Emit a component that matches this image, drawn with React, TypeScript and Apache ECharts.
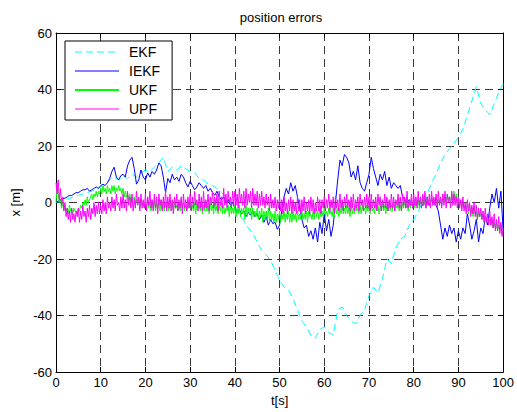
import React, { useEffect, useRef } from "react";
import * as echarts from "echarts";

// Filter names, in drawing order (later ones are drawn on top)
const FILTERS = ["EKF", "IEKF", "UKF", "UPF"];
const COLORS = ["#00ffff", "#0000ff", "#00ff00", "#ff00ff"];
// Line width of each filter's sample in the legend
const LEGEND_WIDTHS = [1, 1, 2, 1];

// Axis ranges and tick spacing
const T_MIN = 0;
const T_MAX = 100;
const T_STEP = 10;
const X_MIN = -60;
const X_MAX = 60;
const X_STEP = 20;

// EKF position error [m], one sample per second (t = 0..100 s)
const ekf = [
  0, 0.5, 1, 1.5, 2, 2.5, 3, 3.5, 4, 4.5,
  5.5, 6, 8, 9, 8, 9.5, 8.5, 10, 9, 10.5,
  11.5, 11, 12.5, 14, 16, 11, 12.5, 11.5, 13, 12,
  11, 10.5, 8.5, 8, 6.5, 6, 5, 3.5, 2, 0,
  -2, -4, -6.5, -9, -11, -14, -17, -18.5, -20.5, -24,
  -27.5, -30, -31, -34, -38, -42, -44, -47, -48, -45,
  -44, -46, -47, -38, -37, -40, -42, -43, -40, -38,
  -33, -30, -32, -27, -20, -21.5, -16, -13, -12, -8,
  -6, -3, 0, 3, 7, 10, 14, 17, 19, 21,
  23, 26, 31, 36, 41, 35, 33, 31, 35, 39,
  42,
];

// IEKF position error [m], two samples per second
const iekf = [
  0, 0.5, 1, 1.5, 1.5, 2, 2.5, 2.5, 3, 3.5,
  3.5, 4, 4.5, 4.5, 5, 4, 4.5, 5, 5.5, 5,
  6, 6.5, 6, 7, 8.5, 11, 12.5, 9, 8, 9.5,
  10, 9, 13, 15, 16, 12, 6.5, 8, 11.5, 9,
  8, 10.5, 9, 11, 10, 11.5, 14, 13, 9, 3.5,
  8.5, 7, 10, 8, 9, 7.5, 10, 9, 7, 5.5,
  7.5, 6, 4.5, 5.5, 7, 6, 5, 6, 4, 5,
  3.5, 2.5, 4, 2, 1, 2, 0, 1, -1, 0,
  -2, -3.5, -2.5, -4, -3, -5, -3.5, -4.5, -3, -5,
  -4, -6, -4.5, -7, -5, -8, -6, -7.5, -7, -9.5,
  -8, -3, 2, 5, 3, 7, 4, 6, 2, -2,
  -6, -9, -8, -12, -10, -13, -9, -14, -7, -11,
  -4, -10, -6, -12, -8, 0, 8, 15, 13, 17,
  16, 14, 9, 11, 8, 13, 7, 5, 4, 7,
  10, 16, 12, 9, 6, 10, 8, 11, 6, 9,
  5, 7, 6, 5, 6, 2, 1, 0, 1, -1,
  0, -1, 1, 0, -1, 1, 0, -1, 1, 0,
  -1, -3, -8, -13, -9, -12, -8, -11, -9, -14,
  -10, -13, -9, -11, -4, -8, -13, -10, -6, -14,
  -9, -11, -5, -8, -2, 3, 0, 5, -2, 4,
  -10,
];

// UKF position error [m], four samples per second
const ukf = [
  0, 7, 3, 0, 1, -2, 0, -3, -1, -3, -2, -4, -1, -3, -2, -4, -2, -3, -3, -4,
  -2, -3, -1, -2, 0, -1, 1, -1, 2, 0, 1, 2, 3, 1, 3, 2, 4, 2, 4, 3,
  5, 3, 6, 4, 5, 3, 6, 4, 5, 3, 6, 4, 6, 3, 5, 4, 6, 4, 5, 3,
  5, 2, 4, 2, 3, 1, 3, 0, 2, 1, 2, -1, 1, 0, 1, -2, 1, -1, 0, -2,
  0, -2, 1, -2, 0, -3, 0, -2, 1, -3, 0, -2, 0, -3, 1, -2, 0, -3, 0, -2,
  0, -3, 1, -2, 0, -3, 0, -2, -1, -3, 0, -3, 1, -2, 0, -3, -1, -3, 0, -2,
  0, -3, -1, -3, 0, -4, 0, -2, -1, -3, 0, -4, -1, -3, 0, -3, -1, -4, 0, -3,
  -1, -4, 0, -3, -1, -4, -1, -3, 0, -4, -1, -4, -2, -3, -1, -5, -1, -4, -2, -4,
  -1, -5, -2, -4, -1, -5, -2, -4, -2, -6, -1, -5, -2, -4, -2, -6, -2, -5, -3, -5,
  -2, -6, -3, -5, -2, -7, -3, -6, -3, -6, -2, -7, -3, -6, -4, -7, -3, -7, -4, -6,
  -3, -7, -4, -6, -3, -7, -4, -6, -3, -7, -4, -7, -3, -6, -4, -7, -3, -6, -4, -6,
  -3, -6, -4, -6, -3, -7, -3, -5, -4, -6, -3, -6, -2, -5, -3, -6, -2, -5, -3, -5,
  -2, -5, -3, -5, -2, -4, -3, -5, -2, -5, -1, -4, -2, -5, -2, -4, -1, -4, -2, -4,
  -1, -4, -2, -5, -1, -4, -2, -4, -1, -3, -2, -4, -1, -4, -1, -3, -2, -4, -1, -3,
  -1, -4, -1, -3, -2, -4, 0, -3, -1, -4, -1, -3, 0, -3, -1, -4, -1, -3, 0, -3,
  -1, -3, 0, -3, -1, -2, 0, -3, -1, -3, 0, -2, 1, -2, 0, -3, 0, -2, 1, -2,
  1, -2, 0, -1, 1, -2, 1, -1, 2, -1, 1, -2, 2, -1, 1, 0, 2, -1, 1, -1,
  2, -1, 1, 0, 2, -1, 3, 0, 2, 0, 3, 1, 2, 0, 3, 1, 4, 1, 3, 0,
  2, -1, 1, -2, 0, -2, -1, -3, 0, -4, -1, -4, -2, -5, -2, -4, -3, -6, -3, -5,
  -4, -6, -4, -7, -5, -7, -5, -8, -6, -8, -6, -9, -7, -9, -7, -10, -8, -10, -8, -11,
  -10,
];

// UPF position error [m], four samples per second
const upf = [
  7, 3, 8, 1, 5, -1, 2, -3, 0, -5, -2, -6, -3, -7, -2, -6, -4, -7, -3, -5,
  -2, -7, -3, -6, -1, -5, -3, -7, -2, -5, -1, -6, -2, -4, 0, -5, -1, -4, 0, -4,
  -1, -4, 1, -3, 0, -4, 2, -2, 0, -3, 2, -2, 1, -3, 3, -1, 0, -3, 2, -2,
  3, -2, 1, -3, 4, -1, 2, -2, 3, -3, 1, -2, 4, -1, 2, -3, 3, -2, 1, -2,
  3, -3, 2, -1, 4, -2, 1, -3, 3, -2, 2, -4, 3, -1, 1, -3, 2, -2, 4, -3,
  2, -2, 3, -3, 1, -4, 2, -2, 3, -3, 1, -2, 2, -4, 3, -2, 1, -3, 2, -2,
  3, -3, 2, -2, 4, -1, 1, -3, 3, -2, 2, -3, 4, -2, 1, -2, 3, -3, 2, -1,
  4, -2, 2, -1, 3, -3, 4, -1, 2, -2, 5, -1, 3, -2, 4, 0, 2, -2, 4, -1,
  4, -1, 3, -2, 5, 0, 3, -1, 4, -2, 5, -1, 3, 0, 4, -2, 5, -1, 3, -1,
  4, -2, 3, -1, 4, -1, 2, -2, 3, -1, 2, -3, 3, -2, 1, -2, 2, -3, 1, -2,
  2, -3, 1, -4, 2, -3, 0, -4, 1, -3, 2, -4, 1, -3, 0, -4, 2, -3, 1, -4,
  1, -3, 2, -4, 0, -3, 1, -4, 2, -3, 1, -4, 0, -3, 2, -3, 1, -4, 1, -2,
  2, -3, 1, -2, 3, -3, 1, -2, 2, -4, 2, -2, 1, -3, 3, -2, 1, -3, 2, -2,
  3, -2, 1, -3, 2, -2, 3, -3, 1, -2, 2, -3, 3, -1, 1, -3, 2, -2, 3, -2,
  2, -3, 3, -2, 1, -2, 2, -3, 3, -1, 2, -3, 1, -2, 3, -2, 2, -3, 1, -2,
  3, -2, 2, -3, 1, -1, 3, -2, 2, -3, 3, -1, 2, -2, 4, -2, 1, -1, 3, -2,
  3, -1, 2, -2, 4, -1, 2, -2, 3, -1, 4, -2, 2, -1, 3, -2, 4, -1, 2, -1,
  3, -2, 4, -1, 2, -2, 3, -1, 4, -2, 3, 0, 2, -2, 4, -1, 3, -1, 2, -2,
  2, -2, 1, -3, 2, -3, 0, -4, 1, -3, 0, -5, -1, -4, 0, -5, -1, -6, -2, -5,
  -2, -6, -3, -7, -2, -7, -4, -8, -3, -8, -5, -9, -4, -10, -6, -10, -5, -11, -7, -12,
  -9,
];

// Sample spacing [s] for each series
const SAMPLE_DT = [1, 0.5, 0.25, 0.25];
const VALUES = [ekf, iekf, ukf, upf];

const FONT = "'Liberation Sans', Arial, Helvetica, sans-serif";

const withTime = (vals: number[], dt: number) => vals.map((v, i) => [i * dt, v]);

export default function App() {
  const ref = useRef<HTMLDivElement>(null);

  useEffect(() => {
    if (!ref.current) return;
    const chart = echarts.init(ref.current, undefined, { renderer: "svg" });

    const axisLine = { show: true, onZero: false, lineStyle: { color: "#000", width: 1 } };
    const tick = { show: true, inside: true, length: 5, lineStyle: { color: "#000", width: 1 } };
    const grid = { show: true, lineStyle: { color: "#3a3a3a", width: 1, type: [8, 5] } };
    const label = { color: "#000", fontSize: 13, fontFamily: FONT };

    chart.setOption({
      animation: false,
      backgroundColor: "#fff",
      title: {
        text: "position errors",
        left: 281,
        top: 11,
        textAlign: "center",
        padding: 0,
        textStyle: { color: "#000", fontSize: 13, fontWeight: "normal", fontFamily: FONT },
      },
      grid: { left: 56, right: 12, top: 33, bottom: 40, containLabel: false },
      legend: {
        data: FILTERS.map((name, k) => ({
          name,
          lineStyle: { width: LEGEND_WIDTHS[k] },
        })),
        orient: "vertical",
        left: 65,
        top: 41,
        itemWidth: 44,
        itemHeight: 14,
        itemGap: 5,
        padding: [4, 12, 4, 9],
        backgroundColor: "#fff",
        borderColor: "#000",
        borderWidth: 1,
        borderRadius: 0,
        selectedMode: false,
        itemStyle: { opacity: 0 },
        textStyle: { color: "#000", fontSize: 14, fontFamily: FONT, padding: [0, 0, 0, 5] },
      },
      xAxis: [
        {
          type: "value",
          min: T_MIN,
          max: T_MAX,
          interval: T_STEP,
          name: "t[s]",
          nameLocation: "middle",
          nameGap: 21,
          nameTextStyle: { color: "#000", fontSize: 13, fontFamily: FONT },
          axisLine,
          axisTick: tick,
          axisLabel: { ...label, margin: 4 },
          splitLine: grid,
        },
        {
          type: "value",
          position: "top",
          min: T_MIN,
          max: T_MAX,
          interval: T_STEP,
          axisLine,
          axisTick: tick,
          axisLabel: { show: false },
          splitLine: { show: false },
        },
      ],
      yAxis: [
        {
          type: "value",
          min: X_MIN,
          max: X_MAX,
          interval: X_STEP,
          name: "x [m]",
          nameLocation: "middle",
          nameGap: 31,
          nameTextStyle: { color: "#000", fontSize: 13, fontFamily: FONT },
          axisLine,
          axisTick: tick,
          axisLabel: { ...label, margin: 4 },
          splitLine: grid,
        },
        {
          type: "value",
          position: "right",
          min: X_MIN,
          max: X_MAX,
          interval: X_STEP,
          axisLine,
          axisTick: tick,
          axisLabel: { show: false },
          splitLine: { show: false },
        },
      ],
      series: FILTERS.map((name, k) => ({
        name,
        type: "line",
        xAxisIndex: 0,
        yAxisIndex: 0,
        data: withTime(VALUES[k], SAMPLE_DT[k]),
        symbol: "none",
        showSymbol: false,
        color: COLORS[k],
        lineStyle: {
          color: COLORS[k],
          width: 1,
          type: k === 0 ? [7, 4] : "solid",
        },
        emphasis: { disabled: true },
        silent: true,
      })),
    });

    return () => chart.dispose();
  }, []);

  return (
    <div
      ref={ref}
      style={{ position: "absolute", left: 0, top: 0, width: 517, height: 412 }}
    />
  );
}
